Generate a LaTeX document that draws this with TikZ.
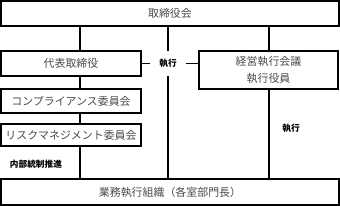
\documentclass[tikz,border=0pt]{standalone}
\usepackage{fontspec}
\setmainfont{Noto Sans CJK JP}
\usepackage{tikz}
\usetikzlibrary{positioning, calc}
\definecolor{txtgray}{HTML}{4A4A4A}
\tikzset{
  box/.style ={draw, line width=1.1pt, inner sep=0pt, align=center,
               font=\fontsize{8.2}{13}\selectfont, text=txtgray, fill=white},
  link/.style={line width=0.8pt},
  lbl/.style ={font=\fontsize{6.5}{8}\selectfont\bfseries, align=center},
}

\begin{document}
\begin{tikzpicture}[x=0.75pt, y=-0.75pt]
  \useasboundingbox (0,0) rectangle (340,206);
  \node[box, minimum width=253.5pt, minimum height=18.75pt] (board) at (170,13.5) {取締役会};
  \node[box, minimum width=105pt, minimum height=18.75pt] (ceo) at (71,63.5) {代表取締役};
  \node[box, minimum width=104.25pt, minimum height=28.5pt] (exec) at (268.5,70) {経営執行会議\\執行役員};
  \node[box, minimum width=105pt, minimum height=18pt] (comp) at (71,101) {コンプライアンス委員会};
  \node[box, minimum width=105pt, minimum height=16.5pt] (risk) at (71,135) {リスクマネジメント委員会};
  \node[box, minimum width=253.5pt, minimum height=19.5pt] (ops) at (170,192) {業務執行組織（各室部門長）};

  % connectors
  \draw[link] ($(board.south)+(-90,0)$) -- ($(ceo.north)+(9,0)$);
  \draw[link] ($(ceo.south)+(9,0)$) -- ($(comp.north)+(9,0)$);
  \draw[link] ($(comp.south)+(9,0)$) -- ($(risk.north)+(9,0)$);
  \draw[link] ($(risk.south)+(9,0)$) -- ($(ops.north)+(-90,0)$);
  \draw[link] ($(board.south)+(-2,0)$) -- ($(ops.north)+(-2,0)$);
  \draw[link] ($(board.south)+(99,0)$) -- ($(exec.north)+(0.5,0)$);
  \draw[link] ($(exec.south)+(0.5,0)$) -- ($(ops.north)+(99,0)$);
  \draw[link] (ceo.east) -- (ceo.east -| exec.west);
  \node[lbl, fill=white, minimum width=27pt, minimum height=19pt] (run1) at (168,63.5) {執行};
  \node[lbl] (run2) at (291,128) {執行};
  \node[lbl] (push) at (36,164) {内部統制推進};
\end{tikzpicture}
\end{document}
